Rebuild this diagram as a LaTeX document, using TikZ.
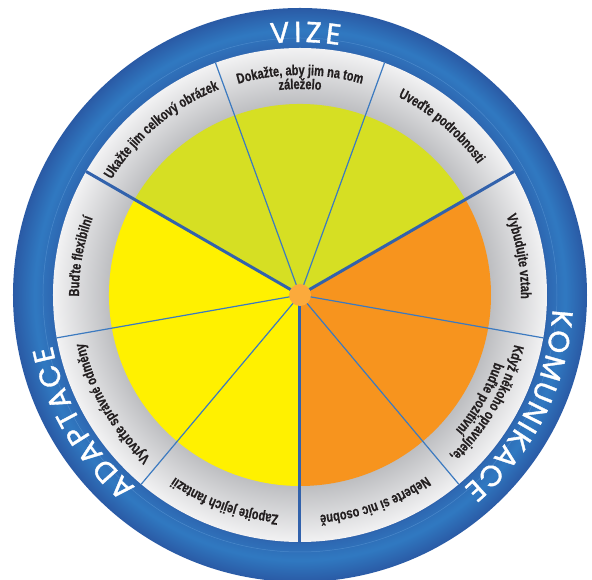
\documentclass[tikz,border=0pt]{standalone}
\usepackage{fontspec}
\usetikzlibrary{decorations.text}
\newfontfamily\lblfam{Liberation Sans}[FakeStretch=0.76,FakeBold=0.5]
\newfontfamily\ttlfam{Poppins}[FakeBold=1.2]
\definecolor{txt}{RGB}{35,31,32}
\definecolor{vize}{RGB}{214,223,35}
\definecolor{adap}{RGB}{255,241,0}
\definecolor{komu}{RGB}{247,148,30}
\definecolor{hubc}{RGB}{251,170,60}
\definecolor{gDark}{RGB}{188,189,192}
\definecolor{gLight}{RGB}{242,242,243}
\definecolor{bEdge}{RGB}{42,90,165}
\definecolor{bIn}{RGB}{46,104,178}
\definecolor{bMid}{RGB}{48,121,193}
\definecolor{bLine}{RGB}{92,152,214}
\definecolor{sepThin}{RGB}{60,122,192}
\definecolor{sepThick}{RGB}{50,98,172}
\pgfdeclareradialshading{grayRing}{\pgfpointorigin}{color(0bp)=(gDark); color(19.2bp)=(gDark); color(25bp)=(gLight); color(50bp)=(gLight)}
\pgfdeclareradialshading{blueRing}{\pgfpointorigin}{color(0bp)=(bEdge); color(21.4bp)=(bEdge); color(21.6bp)=(bIn); color(23.1bp)=(bMid); color(25bp)=(bEdge); color(50bp)=(bEdge)}
\newcommand\lblfont{\lblfam\bfseries\fontsize{14.5}{14.5}\selectfont\color{txt}}
\newcommand\ttlfont{\ttlfam\fontsize{29}{29}\selectfont\color{white}}
\newcommand\seglabel[3]{\path[decorate,decoration={text along path,text align=center,text={|\lblfont|#3}}] ({#1+35}:#2) arc[start angle={#1+35},end angle={#1-35},radius=#2];}
\newcommand\ttllabel[3]{\path[decorate,decoration={text along path,text align=fit to path,text={|\ttlfont|#3}}] ({#1}:253) arc[start angle={#1},end angle={#2},radius=253];}
\tikzset{
  thinsep/.style={draw=sepThin,line width=1.2pt},
  thicksep/.style={draw=sepThick,line width=3pt},
  hubdot/.style={circle,fill=hubc,minimum size=22pt,inner sep=0pt}
}
\begin{document}
\begin{tikzpicture}[x=1pt,y=1pt]
\useasboundingbox (-300,-285) rectangle (292,295);
\coordinate (c) at (0,0);
% blue ring
\shade[shading=blueRing] (c) circle[radius=287];
\draw[bLine,line width=0.5pt,opacity=0.6] (c) circle[radius=257];
% gray ring
\shade[shading=grayRing] (c) circle[radius=247];
% coloured sectors
\fill[vize] (c) -- (30:191) arc[start angle=30,end angle=150,radius=191] -- cycle;
\fill[adap] (c) -- (150:191) arc[start angle=150,end angle=270,radius=191] -- cycle;
\fill[komu] (c) -- (270:191) arc[start angle=270,end angle=390,radius=191] -- cycle;
% separators
\foreach \a in {70,110,190,230,310,350}{
  \coordinate (e\a) at (\a:247);
  \draw[thinsep] (c) -- (e\a);
}
\foreach \a in {30,150,270}{
  \coordinate (e\a) at (\a:247);
  \draw[thicksep] (c) -- (e\a);
}
\node[hubdot] (hub) at (c) {};
% segment labels
\seglabel{130}{221}{Ukažte jim celkový obrázek}
\seglabel{90}{220}{Dokažte, aby jim na tom}
\seglabel{90}{206}{záleželo}
\seglabel{50}{221}{Uveďte podrobnosti}
\seglabel{10}{221}{Vybudujte vztah}
\seglabel{330}{220}{Když někoho opravujete,}
\seglabel{330}{206}{buďte pozitivní}
\seglabel{290}{221}{Neberte si nic osobně}
\seglabel{250}{221}{Zapojte jejich fantazii}
\seglabel{210}{221}{Vytvořte správné odměny}
\seglabel{170}{221}{Buďte flexibilní}
% sector titles
\ttllabel{96.6}{81.0}{VIZE}
\ttllabel{-3.25}{-49.75}{KOMUNIKACE}
\ttllabel{229.45}{191.55}{ADAPTACE}
\end{tikzpicture}
\end{document}
